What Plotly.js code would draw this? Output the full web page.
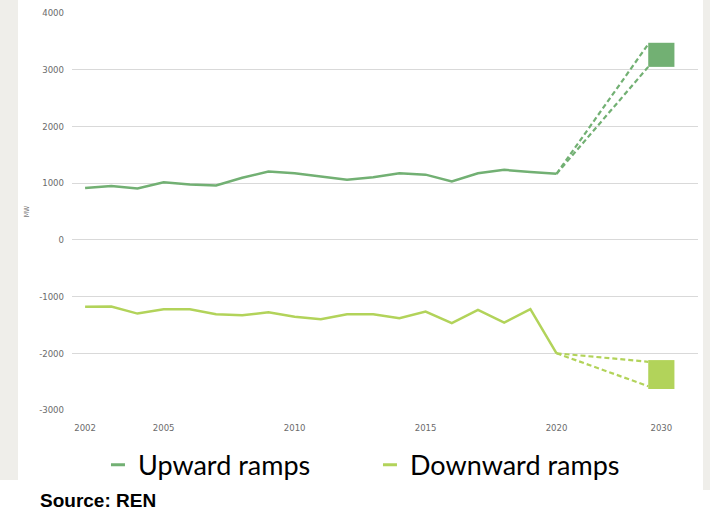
<!DOCTYPE html>
<html>
<head>
<meta charset="utf-8">
<script src="https://cdn.plot.ly/plotly-3.0.1.min.js"></script>
<style>
  html, body { margin: 0; padding: 0; background: #ffffff; }
  #wrap { position: relative; width: 710px; height: 511px; overflow: hidden; }
  .strip { position: absolute; background: #efeeea; }
  #chart { position: absolute; left: 0; top: 0; width: 710px; height: 511px; }
</style>
</head>
<body>
<div id="wrap">
  <div class="strip" style="left:0;top:0;width:18px;height:480px;"></div>
  <div class="strip" style="left:703px;top:0;width:7px;height:490px;"></div>
  <div id="chart"></div>
</div>
<script>
// ---- data ----
const years = [2002, 2003, 2004, 2005, 2006, 2007, 2008, 2009, 2010, 2011,
               2012, 2013, 2014, 2015, 2016, 2017, 2018, 2019, 2020];
const upward = [914, 950, 905, 1015, 975, 960, 1095, 1205, 1175, 1115,
                1060, 1105, 1175, 1150, 1030, 1175, 1235, 1195, 1165];
const downward = [-1180, -1175, -1300, -1225, -1225, -1310, -1330, -1275, -1355, -1400,
                  -1310, -1310, -1380, -1265, -1470, -1235, -1460, -1220, -2000];
// 2030 projections (high / low ends of the dashed fan, and the range box)
const upProjEnds = [3450, 3050];
const downProjEnds = [-2150, -2580];
const upBox = [3050, 3475];
const downBox = [-2630, -2120];
const tickYears = [2002, 2005, 2010, 2015, 2020];
const projLabel = '2030';
const yTickVals = [-3000, -2000, -1000, 0, 1000, 2000, 3000, 4000];
const yTickText = ['-3000', '-2000', '-1000', '0', '1000', '2000', '3000', '4000'];

// axis placement of the 2030 slot (compressed axis after 2020)
const projSlot = 2024;
const projEdge = projSlot - 0.5;

const upColor = '#72b073';
const downColor = '#b2d35a';

const lastYear = years[years.length - 1];
const traces = [];

traces.push({ x: years, y: upward, type: 'scatter', mode: 'lines',
  line: { color: upColor, width: 2.5 }, showlegend: false });
traces.push({ x: years, y: downward, type: 'scatter', mode: 'lines',
  line: { color: downColor, width: 2.5 }, showlegend: false });

upProjEnds.forEach(v => traces.push({
  x: [lastYear, projEdge], y: [upward[upward.length - 1], v], type: 'scatter', mode: 'lines',
  line: { color: upColor, width: 2.2, dash: '5px,3px' }, showlegend: false }));
downProjEnds.forEach(v => traces.push({
  x: [lastYear, projEdge], y: [downward[downward.length - 1], v], type: 'scatter', mode: 'lines',
  line: { color: downColor, width: 2.2, dash: '5px,3px' }, showlegend: false }));

traces.push({ x: [projSlot], y: [upBox[1] - upBox[0]], base: [upBox[0]], type: 'bar',
  width: 1, marker: { color: upColor }, showlegend: false });
traces.push({ x: [projSlot], y: [downBox[1] - downBox[0]], base: [downBox[0]], type: 'bar',
  width: 1, marker: { color: downColor }, showlegend: false });

// legend entries (one legend box each, placed like the reference)
traces.push({ x: [null], y: [null], type: 'scatter', mode: 'markers', name: 'Upward ramps',
  legend: 'legend',
  marker: { symbol: 'line-ew', size: 10, line: { color: upColor, width: 3 } } });
traces.push({ x: [null], y: [null], type: 'scatter', mode: 'markers', name: 'Downward ramps',
  legend: 'legend2',
  marker: { symbol: 'line-ew', size: 10, line: { color: downColor, width: 3 } } });

const tickFont = { family: '"DejaVu Sans Condensed", "Liberation Sans Narrow", "Arial Narrow", sans-serif', size: 9.5, color: '#6b6b6b' };
const legendFont = { family: 'Lato, "Open Sans", sans-serif', size: 27, color: '#000000' };

const layout = {
  width: 710, height: 511,
  margin: { l: 72, r: 12, t: 13, b: 101 },
  paper_bgcolor: 'rgba(0,0,0,0)',
  plot_bgcolor: '#ffffff',
  barmode: 'overlay',
  xaxis: {
    range: [2001.5, 2025.4],
    tickmode: 'array',
    tickvals: tickYears.concat([projSlot]),
    ticktext: tickYears.map(String).concat([projLabel]),
    showgrid: false, zeroline: false, showline: false,
    ticks: '', tickfont: tickFont, ticklabelstandoff: 10
  },
  yaxis: {
    range: [-3000, 4000],
    tickmode: 'array', tickvals: yTickVals, ticktext: yTickText,
    showgrid: true, gridcolor: '#d9d9d9', gridwidth: 1,
    zeroline: true, zerolinecolor: '#d9d9d9', zerolinewidth: 1,
    showline: false, ticks: '', tickfont: tickFont, ticklabelstandoff: 7,
    title: { text: 'MW', font: { family: '"DejaVu Sans Condensed", sans-serif', size: 7, color: '#7a7a7a' }, standoff: 8 }
  },
  showlegend: true,
  legend: {
    orientation: 'h', x: 0.0415, xanchor: 'left', y: -0.139, yanchor: 'middle',
    font: legendFont, bgcolor: 'rgba(0,0,0,0)'
  },
  legend2: {
    orientation: 'h', x: 0.476, xanchor: 'left', y: -0.139, yanchor: 'middle',
    font: legendFont, bgcolor: 'rgba(0,0,0,0)'
  },
  annotations: [{
    text: '<b>Source: REN</b>', xref: 'paper', yref: 'paper',
    x: -0.054, y: -0.227, xanchor: 'left', yanchor: 'middle', showarrow: false,
    font: { family: '"Liberation Sans", Arial, sans-serif', size: 19, color: '#000000' }
  }]
};

Plotly.newPlot('chart', traces, layout, { displayModeBar: false, staticPlot: true });
</script>
</body>
</html>
